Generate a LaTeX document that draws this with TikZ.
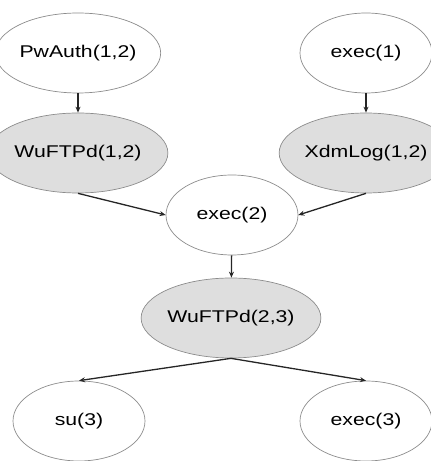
\documentclass[tikz,border=0pt]{standalone}
\usepackage{fontspec}
\setmainfont{Liberation Sans}[FakeStretch=1.25]
\usepackage{tikz}
\usetikzlibrary{shapes.geometric}
\usetikzlibrary{arrows.meta}

\tikzstyle{state} = [draw=black!45, line width=0.7pt, ellipse, fill=white,
minimum width=132pt, minimum height=80pt, inner sep=0pt, font=\fontsize{17}{19}\selectfont]
\tikzstyle{exploit} = [state, fill=black!13]
\tikzstyle{link} = [-{Stealth[length=6pt,width=5pt]}, line width=1.3pt, black!85]

\begin{document}
\begin{tikzpicture}[x=1pt,y=1pt]
        \useasboundingbox (0,0) rectangle (431,461);
        % top row: preconditions
        \node [state] (pwauth) at (78,408) {PwAuth(1,2)};
        \node [state] (exec1) at (366,408) {exec(1)};
        % first exploits
        \node [exploit] (wuftpd12) at (78,308) {WuFTPd(1,2)};
        \node [exploit] (xdmlog) at (366,308) {XdmLog(1,2)};
        \node [state] (exec2) at (232,246) {exec(2)};
        \node [exploit] (wuftpd23) at (231,143) {WuFTPd(2,3)};
        % bottom row: results
        \node [state] (su3) at (79,40) {su(3)};
        \node [state] (exec3) at (366,40) {exec(3)};

        \draw [link] (pwauth) -- (wuftpd12);
        \draw [link] (exec1) -- (xdmlog);
        \draw [link] (wuftpd12.south) -- (exec2.west);
        \draw [link] (xdmlog.south) -- (exec2.east);
        \draw [link] (exec2) -- (wuftpd23);
        \draw [link] (wuftpd23.south) -- (su3.north);
        \draw [link] (wuftpd23.south) -- (exec3.north);
    \end{tikzpicture}
\end{document}
